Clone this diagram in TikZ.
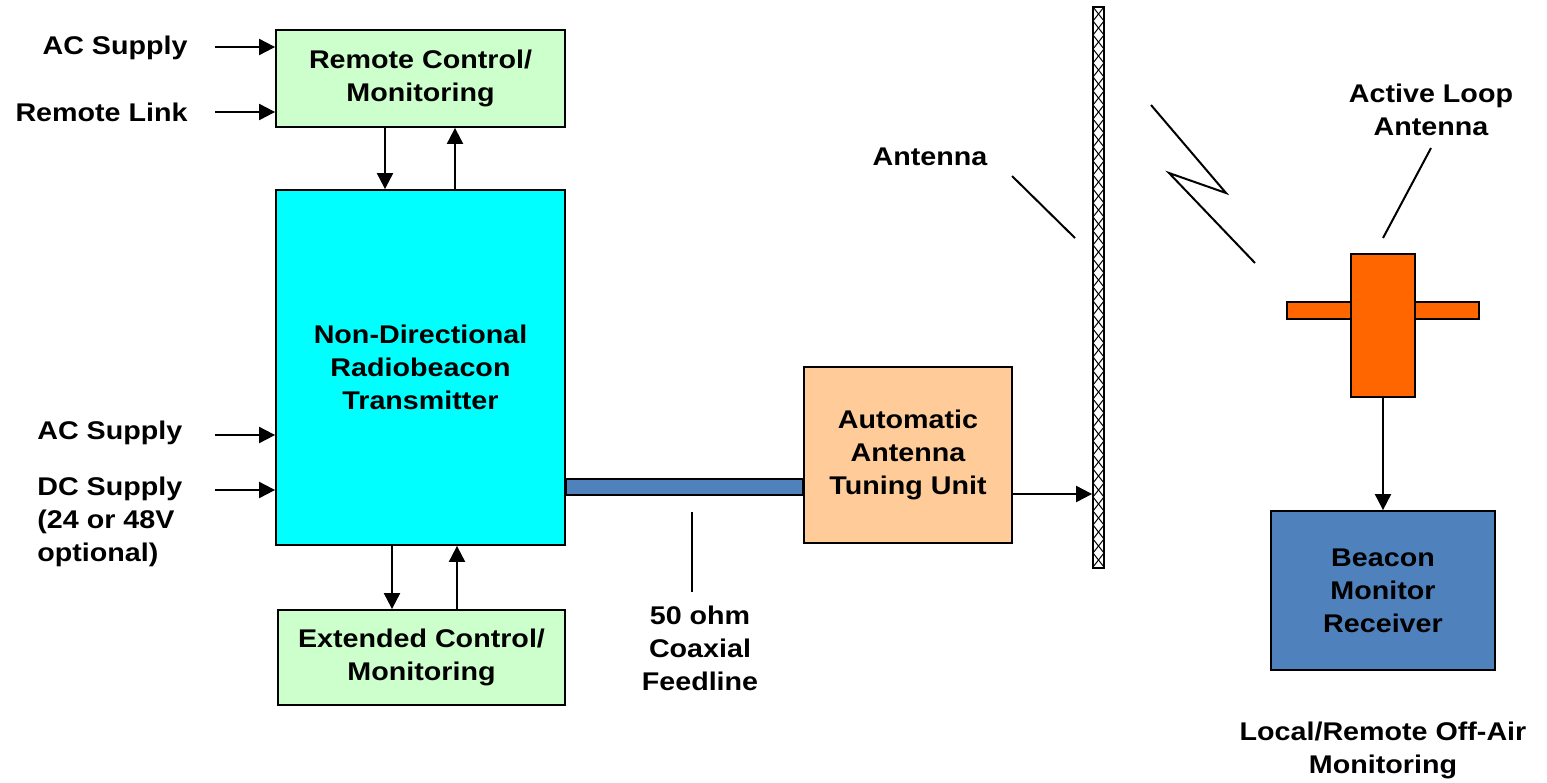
\documentclass[tikz,border=0pt]{standalone}
\usepackage{fontspec}
\setmainfont{Liberation Sans}[FakeStretch=1.12]
\usetikzlibrary{arrows.meta}

\definecolor{ctrlgreen}{HTML}{CCFFCC}
\definecolor{txcyan}{HTML}{00FFFF}
\definecolor{atupeach}{HTML}{FFCC99}
\definecolor{looporange}{HTML}{FF6600}
\definecolor{coaxblue}{HTML}{4F81BD}

\begin{document}
\begin{tikzpicture}[x=0.5pt,y=-0.5pt,
    font=\fontsize{12.8}{16.5}\selectfont\bfseries,
    box/.style={draw, line width=0.9pt, align=center, inner sep=0pt},
    lbl/.style={align=center, inner sep=0pt},
    arr/.style={line width=1pt, -{Triangle[length=8pt,width=8pt]}},
    wire/.style={line width=0.9pt}]
    \useasboundingbox (0,0) rectangle (1547,782);

    % Transmitter and its control boxes
    \node[box, fill=ctrlgreen, minimum width=144.5pt, minimum height=48.5pt] (rc) at (420.5,78.5) {Remote Control/\\Monitoring};
    \node[box, fill=txcyan, minimum width=144.5pt, minimum height=177.5pt] (ndb) at (420.5,367.5) {Non-Directional\\Radiobeacon\\Transmitter};
    \node[box, fill=ctrlgreen, minimum width=143.5pt, minimum height=47.5pt] (ext) at (421.5,657.5) {Extended Control/\\Monitoring};

    % Inputs on the left
    \node[lbl, anchor=east] (acrc) at (188,48) {AC Supply};
    \node[lbl, anchor=east] (link) at (188,112) {Remote Link};
    \node[lbl, anchor=west] (acndb) at (37,433) {AC Supply};
    \node[lbl, anchor=west, align=left] (dc) at (37,522) {DC Supply\\(24 or 48V\\optional)};
    \coordinate (acrcT) at (215,47);
    \coordinate (linkT) at (215,112);
    \coordinate (acndbT) at (215,435);
    \coordinate (dcT) at (215,490);
    \draw[arr] (acrcT) -- (acrcT -| rc.west);
    \draw[arr] (linkT) -- (linkT -| rc.west);
    \draw[arr] (acndbT) -- (acndbT -| ndb.west);
    \draw[arr] (dcT) -- (dcT -| ndb.west);

    % Control links
    \draw[arr] (rc.south -| 385,0) -- (ndb.north -| 385,0);
    \draw[arr] (ndb.north -| 455,0) -- (rc.south -| 455,0);
    \draw[arr] (ndb.south -| 392,0) -- (ext.north -| 392,0);
    \draw[arr] (ext.north -| 457,0) -- (ndb.south -| 457,0);

    % Tuning unit and feedline
    \node[box, fill=atupeach, minimum width=104pt, minimum height=88pt] (atu) at (908,455) {Automatic\\Antenna\\Tuning Unit};
    \draw[wire, fill=coaxblue] (ndb.east |- 0,479) rectangle (atu.west |- 0,495);
    \node[lbl] (feed) at (700,648) {50 ohm\\Coaxial\\Feedline};
    \coordinate (coaxP) at (692,512);
    \draw[line width=1pt] (coaxP) -- (coaxP |- 0,592);

    % Antenna mast
    \begin{scope}
        \clip (1093,7) rectangle (1104,568);
        \foreach \y in {7,21,...,553} {
            \draw[line width=0.5pt] (1093,\y) -- (1104,\y+14);
            \draw[line width=0.5pt] (1104,\y) -- (1093,\y+14);
        }
    \end{scope}
    \node[box, minimum width=5.5pt, minimum height=280.5pt] (mast) at (1098.5,287.5) {};
    \draw[arr] (atu.east |- 0,494) -- (mast.west |- 0,494);
    \node[lbl] (ant) at (930,157) {Antenna};
    \coordinate (antA) at (1012,176);
    \coordinate (antB) at (1075,238);
    \draw[line width=1pt] (antA) -- (antB);

    % Radiated signal
    \draw[line width=1pt, line join=miter] (1151,105) -- (1226,193) -- (1169,173) -- (1255,263);

    % Loop antenna and monitor receiver
    \draw[wire, fill=looporange] (1287,302) rectangle (1479,319);
    \node[box, fill=looporange, minimum width=32pt, minimum height=71.5pt] (loop) at (1383,325.5) {};
    \node[lbl] (loopname) at (1431,110) {Active Loop\\Antenna};
    \coordinate (loopA) at (1431,148);
    \draw[line width=1pt] (loopA) -- (1383,238);
    \node[box, fill=coaxblue, minimum width=112pt, minimum height=79.5pt] (bmr) at (1383,590.5) {Beacon\\Monitor\\Receiver};
    \draw[arr] (loop.south) -- (bmr.north);
    \node[lbl] (offair) at (1383,750) {Local/Remote Off-Air\\Monitoring};
\end{tikzpicture}
\end{document}
